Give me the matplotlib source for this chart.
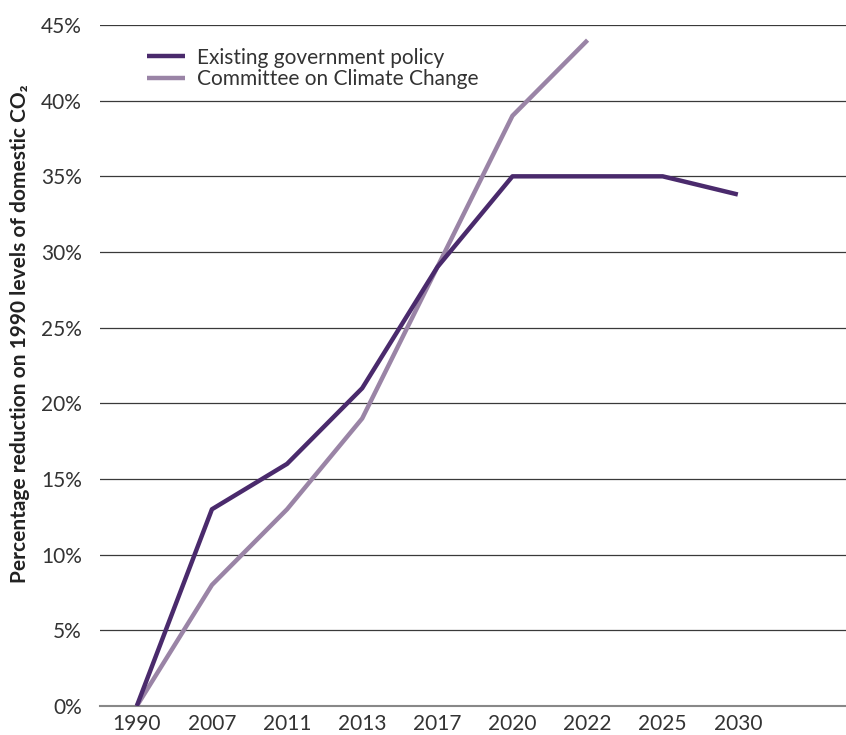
import matplotlib
matplotlib.use("Agg")
import matplotlib.pyplot as plt
import numpy as np

plt.rcParams['font.family'] = ['Lato', 'DejaVu Sans']

years = ["1990", "2007", "2011", "2013", "2017", "2020", "2022", "2025", "2030"]
existing_policy = [0, 13, 16, 21, 29, 35, 35, 35, 33.8]
ccc_years = ["1990", "2007", "2011", "2013", "2017", "2020", "2022"]
ccc_pathway = [0, 8, 13, 19, 29, 39, 44]

dark_purple = "#4a2a6c"
light_purple = "#9a84a6"

fig = plt.figure(figsize=(8.46, 7.35), dpi=100)
ax = fig.add_axes([100 / 846, 29 / 735, 746 / 846, 681 / 735])

x_all = np.arange(len(years))
x_ccc = np.arange(len(ccc_years))

ax.plot(x_ccc, ccc_pathway, color=light_purple, lw=3.2, solid_capstyle='butt',
        label="Committee on Climate Change", zorder=3)
ax.plot(x_all, existing_policy, color=dark_purple, lw=3.2, solid_capstyle='butt',
        label="Existing government policy", zorder=4)

ax.set_xlim(-0.49, 9.44)
ax.set_ylim(0, 45)
ax.set_yticks(np.arange(0, 46, 5))
ax.set_yticklabels([f"{v}%" for v in range(0, 46, 5)])
ax.set_xticks(x_all)
ax.set_xticklabels(years)

ax.grid(axis='y', color='#3a3a3a', lw=0.9)
ax.set_axisbelow(True)
for s in ['top', 'right', 'left']:
    ax.spines[s].set_visible(False)
ax.spines['bottom'].set_color('#888888')
ax.spines['bottom'].set_linewidth(1.5)
ax.tick_params(axis='both', length=0, labelsize=15, colors='#333333')
ax.tick_params(axis='y', pad=13)
ax.tick_params(axis='x', pad=6)

handles, labels = ax.get_legend_handles_labels()
ax.legend(handles[::-1], labels[::-1], loc='upper left', bbox_to_anchor=(0.044, 0.988),
          frameon=False, fontsize=15, handlelength=1.8, handletextpad=0.6,
          labelspacing=0.06, labelcolor='#333333', borderaxespad=0.3)

fig.text(20 / 846, 1 - 334 / 735, "Percentage reduction on 1990 levels of domestic CO\u2082",
         rotation=90, ha='center', va='center', fontsize=15, fontweight='bold',
         color='#222222')

fig.savefig("out.png", dpi=100)
